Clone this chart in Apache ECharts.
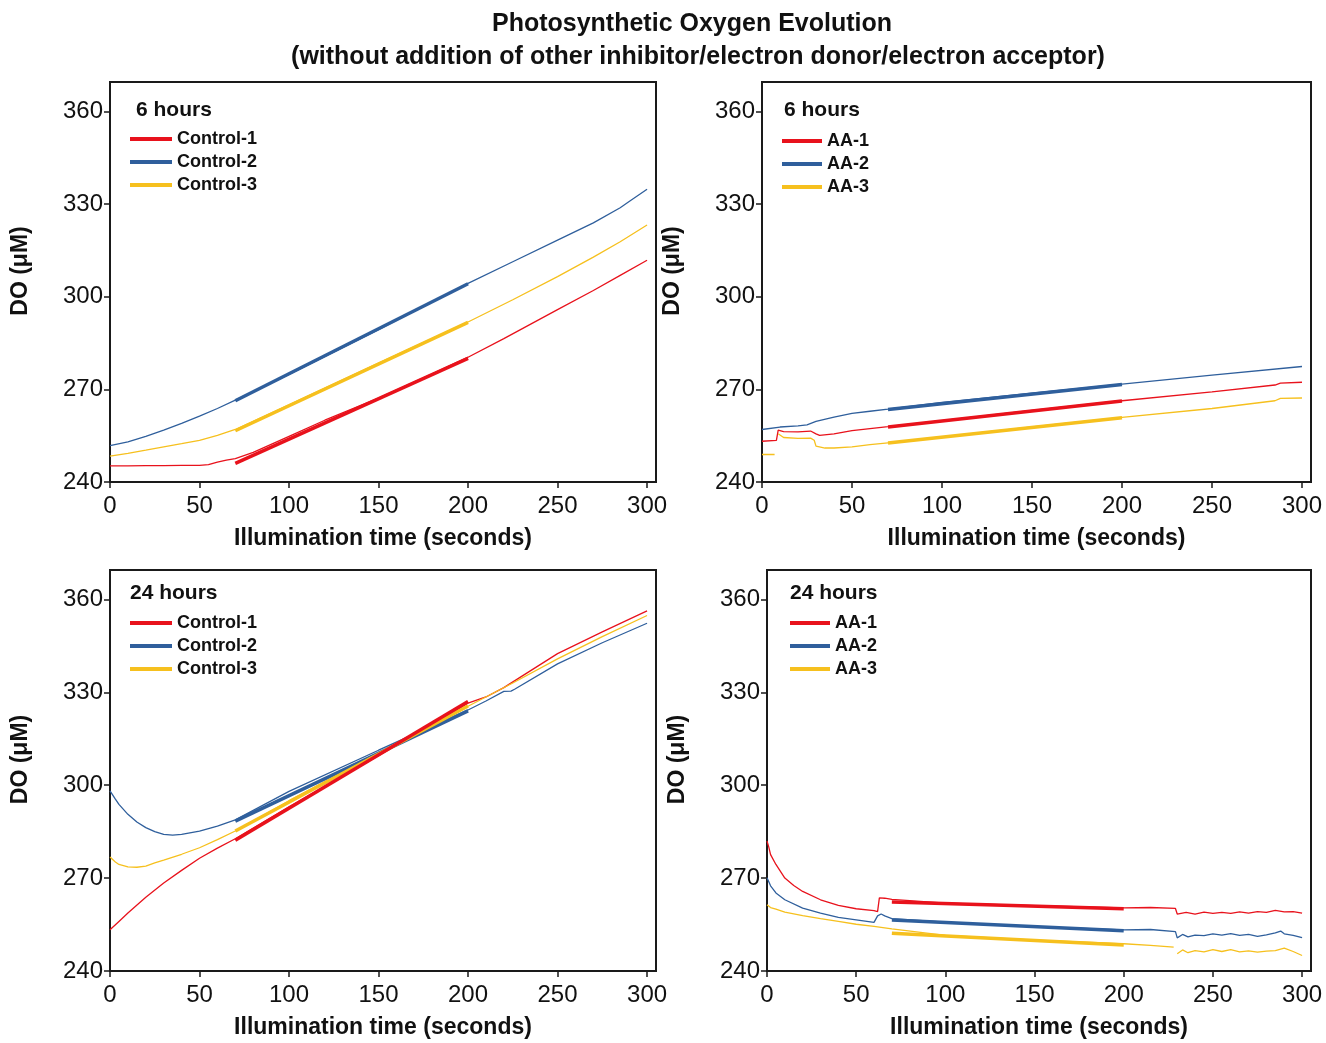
<!DOCTYPE html>
<html>
<head>
<meta charset="utf-8">
<script src="https://cdn.jsdelivr.net/npm/echarts@6/dist/echarts.min.js"></script>
<style>html,body{margin:0;padding:0;background:#fff}#chart{width:1326px;height:1043px}</style>
</head>
<body>
<div id="chart"></div>
<script>
// ---------- DATA ----------
const xTicks = [0, 50, 100, 150, 200, 250, 300];
const yTicks = [240, 270, 300, 330, 360];
const controlNames = ['Control-1', 'Control-2', 'Control-3'];
const aaNames = ['AA-1', 'AA-2', 'AA-3'];
const panelLabels = ['6 hours', '6 hours', '24 hours', '24 hours'];

// Top-left: 6 hours, Control
const c6_1 = [[0,245.2],[10,245.2],[20,245.3],[30,245.3],[40,245.4],[50,245.4],[55,245.6],[60,246.4],[65,247.1],[70,247.6],[80,249.6],[90,252.2],[100,254.8],[120,260],[150,267.2],[180,275],[200,280.4],[220,286.4],[250,295.8],[270,302],[285,306.9],[300,311.8]];
const c6_2 = [[0,251.8],[10,253],[20,254.8],[30,256.8],[40,259],[50,261.3],[60,263.8],[70,266.5],[100,274.8],[150,289.3],[200,304.3],[225,311.3],[250,318.3],[270,323.9],[285,328.8],[290,330.8],[300,334.8]];
const c6_3 = [[0,248.4],[10,249.3],[20,250.3],[30,251.4],[40,252.4],[50,253.5],[60,255.1],[70,257],[100,265],[150,278.5],[200,291.8],[225,299],[250,306.5],[270,312.8],[285,317.8],[300,323.2]];
const c6_fit1 = [[70,246.0],[200,280.0]];
const c6_fit2 = [[70,266.3],[200,304.2]];
const c6_fit3 = [[70,256.6],[200,291.7]];

// Top-right: 6 hours, AA
const a6_1 = [[0,253.2],[8,253.5],[9,256.8],[10,257.0],[12,256.3],[20,256.2],[27,256.5],[28,256.9],[30,255.6],[32,255.1],[40,255.6],[50,256.6],[60,257.3],[70,257.9],[100,259.9],[150,263.2],[200,266.3],[250,269.2],[285,271.4],[288,272.0],[300,272.3]];
const a6_2 = [[0,257.0],[10,257.8],[20,258.2],[25,258.5],[30,259.6],[40,261.0],[50,262.2],[60,262.9],[70,263.6],[100,265.8],[150,268.8],[200,271.7],[250,274.6],[300,277.4]];
const a6_3 = [[0,248.9],[7,248.9],[8,'-'],[9,255.6],[10,255.2],[12,254.4],[20,254.1],[27,254.2],[28,254.7],[29,253.5],[30,251.6],[35,251.0],[40,251.0],[50,251.4],[60,252.1],[70,252.7],[100,254.6],[150,257.8],[200,260.9],[250,263.8],[285,266.3],[288,267.1],[300,267.2]];
const a6_fit1 = [[70,257.8],[200,266.2]];
const a6_fit2 = [[70,263.5],[200,271.6]];
const a6_fit3 = [[70,252.6],[200,260.8]];

// Bottom-left: 24 hours, Control
const c24_1 = [[0,253.3],[5,256],[10,258.7],[20,263.8],[30,268.4],[40,272.5],[50,276.4],[60,279.7],[70,282.7],[100,293],[150,309.5],[200,326.5],[210,328.5],[220,331.5],[250,342.5],[275,349.5],[300,356.3]];
const c24_2 = [[0,298.2],[3,295.5],[5,293.8],[10,290.6],[15,288.1],[20,286.3],[25,285],[30,284.1],[35,283.9],[40,284.1],[50,285.2],[60,286.8],[70,288.8],[100,298],[150,311.3],[200,324.3],[210,327.2],[220,330.3],[224,330.4],[226,331.0],[250,339.2],[275,346],[300,352.3]];
const c24_3 = [[0,276.8],[3,275.2],[5,274.4],[10,273.6],[15,273.5],[20,273.9],[25,274.9],[30,275.8],[40,277.7],[50,279.8],[60,282.4],[70,285.2],[100,295],[150,310.4],[200,325.5],[225,333],[250,340.8],[275,348],[300,354.8]];
const c24_fit1 = [[70,282.2],[200,327.0]];
const c24_fit2 = [[70,288.4],[200,324.0]];
const c24_fit3 = [[70,285.2],[200,325.6]];

// Bottom-right: 24 hours, AA
const a24_1 = [[0,282],[1,280],[2,277.6],[5,274.4],[10,270],[15,267.6],[20,265.7],[30,263],[40,261.2],[50,260.1],[60,259.5],[62,259.2],[63,263.6],[64,264.2],[66,263.5],[70,263.1],[100,261.9],[150,261.1],[200,260.4],[215,260.5],[229,260.2],[230,258.4],[235,258.9],[240,258.4],[245,259],[250,258.6],[255,258.9],[260,258.6],[265,259.1],[270,258.7],[275,259.2],[280,258.9],[285,259.6],[290,259.1],[295,259.2],[300,258.7]];
const a24_2 = [[0,270.1],[2,267.5],[5,265.2],[10,263],[20,260.3],[30,258.7],[40,257.3],[50,256.5],[60,255.7],[61,255.6],[62,257.8],[64,258.4],[66,257.8],[70,256.9],[100,255.8],[150,254.3],[200,253.3],[215,253.4],[229,252.7],[230,250.7],[233,251.8],[236,251.0],[240,251.6],[245,251.4],[250,252.0],[255,251.6],[260,252.1],[265,251.5],[270,251.8],[275,251.2],[280,251.7],[285,252.3],[288,252.9],[290,252.0],[295,251.5],[300,250.8]];
const a24_3 = [[0,261.4],[2,260.5],[5,260],[10,259],[20,257.9],[30,256.9],[40,256],[50,255.1],[60,254.4],[70,253.6],[100,251.5],[150,250],[200,248.8],[215,248.3],[228,247.7],[229,'-'],[230,245.6],[233,246.8],[236,245.9],[240,246.6],[245,246.2],[250,246.9],[255,246.3],[260,246.9],[265,246.2],[270,246.5],[275,246.1],[280,246.4],[285,246.6],[290,247.4],[295,246.3],[300,245.0]];
const a24_fit1 = [[70,262.3],[200,260.1]];
const a24_fit2 = [[70,256.5],[200,253.0]];
const a24_fit3 = [[70,252.2],[200,248.4]];

// ---------- STYLE / LAYOUT ----------
const FONT = '"Liberation Sans", Arial, Helvetica, sans-serif';
const COLORS = ['#e8121c', '#2f5f9c', '#f6c01e'];
const grids = [
  {left: 110, top: 82, width: 546, height: 400},
  {left: 762, top: 82, width: 549, height: 400},
  {left: 110, top: 570, width: 546, height: 401},
  {left: 767, top: 570, width: 544, height: 401}
];
const legendPos = [
  {left: 130, top: 130, w: 42},
  {left: 782, top: 132, w: 40},
  {left: 130, top: 614, w: 42},
  {left: 790, top: 614, w: 40}
];
const headerPos = [[136, 110], [784, 110], [130, 593], [790, 593]];

const panels = [
  {names: controlNames, raw: [c6_1, c6_2, c6_3], fit: [c6_fit1, c6_fit2, c6_fit3]},
  {names: aaNames, raw: [a6_1, a6_2, a6_3], fit: [a6_fit1, a6_fit2, a6_fit3]},
  {names: controlNames, raw: [c24_1, c24_2, c24_3], fit: [c24_fit1, c24_fit2, c24_fit3]},
  {names: aaNames, raw: [a24_1, a24_2, a24_3], fit: [a24_fit1, a24_fit2, a24_fit3]}
];

const xAxes = [], yAxes = [], series = [], legends = [], gridOpts = [];
panels.forEach((p, i) => {
  gridOpts.push(Object.assign({show: true, borderColor: '#1a1a1a', borderWidth: 2, backgroundColor: 'transparent'}, grids[i]));
  xAxes.push({
    type: 'value', gridIndex: i, min: 0, max: 305,
    name: 'Illumination time (seconds)', nameLocation: 'middle', nameGap: 45,
    nameTextStyle: {fontFamily: FONT, fontWeight: 'bold', fontSize: 23, color: '#111'},
    axisLine: {show: true, lineStyle: {color: '#1a1a1a', width: 2}},
    axisTick: {show: true, inside: false, length: 6, customValues: xTicks, lineStyle: {color: '#1a1a1a', width: 1.5}},
    axisLabel: {customValues: xTicks, fontFamily: FONT, fontSize: 24, color: '#111', margin: 12},
    splitLine: {show: false}
  });
  yAxes.push({
    type: 'value', gridIndex: i, min: 240, max: 369.5,
    name: 'DO (μM)', nameLocation: 'middle', nameGap: 78, nameRotate: 90,
    nameTextStyle: {fontFamily: FONT, fontWeight: 'bold', fontSize: 23, color: '#111', padding: [0, 0, 0, 22]},
    axisLine: {show: true, lineStyle: {color: '#1a1a1a', width: 2}},
    axisTick: {show: true, inside: false, length: 6, customValues: yTicks, lineStyle: {color: '#1a1a1a', width: 1.5}},
    axisLabel: {customValues: yTicks, fontFamily: FONT, fontSize: 24, color: '#111', margin: 7},
    splitLine: {show: false}
  });
  p.raw.forEach((d, k) => {
    series.push({
      type: 'line', name: p.names[k], xAxisIndex: i, yAxisIndex: i, data: d,
      showSymbol: false, symbol: 'none', connectNulls: false, z: 2,
      color: COLORS[k], lineStyle: {color: COLORS[k], width: 1.3}
    });
  });
  [1, 2, 0].forEach(k => {
    series.push({
      type: 'line', name: p.names[k] + ' fit ' + i, xAxisIndex: i, yAxisIndex: i, data: p.fit[k],
      showSymbol: false, symbol: 'none', z: 3,
      color: COLORS[k], lineStyle: {color: COLORS[k], width: 3.5}
    });
  });
  legends.push({
    data: p.names, orient: 'vertical', left: legendPos[i].left, top: legendPos[i].top,
    icon: 'rect', itemWidth: legendPos[i].w, itemHeight: 4, itemGap: 5, itemTextGap: 13,
    padding: 0, selectedMode: false,
    textStyle: {fontFamily: FONT, fontWeight: 'bold', fontSize: 18, lineHeight: 18, color: '#111'}
  });
});

const graphics = [
  {type: 'text', x: 692, y: 24, style: {text: 'Photosynthetic Oxygen Evolution', font: 'bold 25px ' + FONT, fill: '#111', align: 'center', verticalAlign: 'middle'}},
  {type: 'text', x: 698, y: 57, style: {text: '(without addition of other inhibitor/electron donor/electron acceptor)', font: 'bold 25px ' + FONT, fill: '#111', align: 'center', verticalAlign: 'middle'}}
];
headerPos.forEach((hp, i) => {
  graphics.push({type: 'text', x: hp[0], y: hp[1], style: {text: panelLabels[i], font: 'bold 21px ' + FONT, fill: '#111', align: 'left', verticalAlign: 'middle'}});
});

const chart = echarts.init(document.getElementById('chart'), null, {renderer: 'canvas'});
chart.setOption({
  animation: false,
  backgroundColor: '#fff',
  grid: gridOpts,
  xAxis: xAxes,
  yAxis: yAxes,
  legend: legends,
  series: series,
  graphic: graphics
});
</script>
</body>
</html>
